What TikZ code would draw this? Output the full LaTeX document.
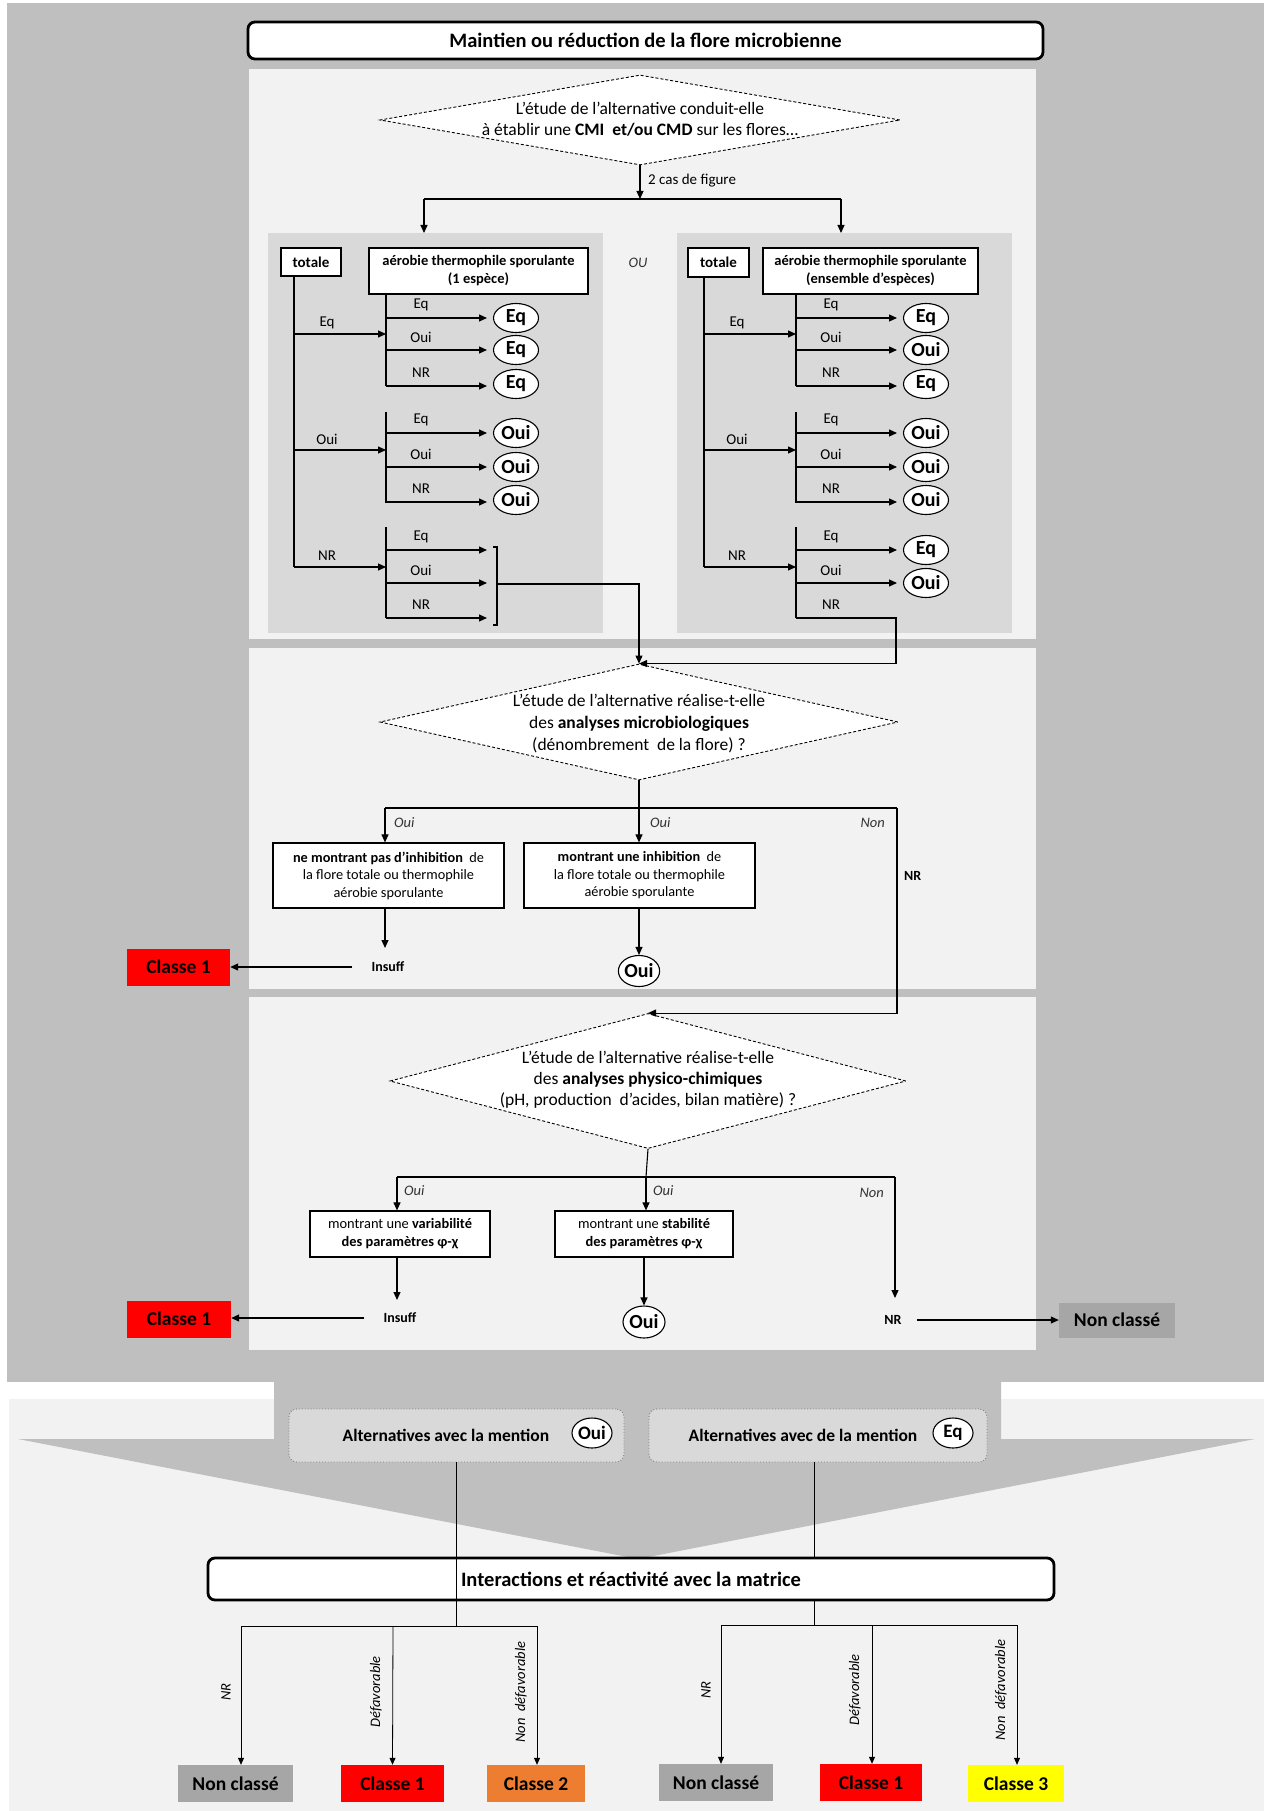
\documentclass[tikz,border=0pt]{standalone}
\usepackage{fontspec}
\setmainfont{Carlito}
\usetikzlibrary{arrows.meta,shapes.geometric}
\definecolor{bgd}{HTML}{BFBFBF}
\definecolor{bgl}{HTML}{F2F2F2}
\definecolor{inr}{HTML}{D9D9D9}
\definecolor{ncg}{HTML}{A6A6A6}
\definecolor{org}{HTML}{ED7D31}
\definecolor{ylw}{HTML}{FFFF00}
\definecolor{rd}{HTML}{FF0000}
\newcommand\fsz[2]{\fontsize{#1}{#2}\selectfont}
\begin{document}
\begin{tikzpicture}[x=1pt,y=-1pt,
 arr/.style={-{Triangle[length=8,width=7]}, line width=1.1},
 tarr/.style={-{Triangle[length=7,width=6]}, line width=0.8},
 ln/.style={line width=1.1},
 wbox/.style={draw, fill=white, line width=1.2, inner sep=2, align=center},
 ell/.style={ellipse, draw, fill=white, line width=1.1, inner sep=0, minimum width=45, minimum height=29, font=\fsz{20}{22}\bfseries},
 lab/.style={font=\fsz{15}{17}, inner sep=1},
 blab/.style={font=\fsz{14}{16}\bfseries, inner sep=1},
 ilab/.style={font=\fsz{14.5}{16}\itshape, inner sep=1, text=black!80},
 dia/.style={diamond, draw, dash pattern=on 3 off 2, line width=0.9, fill=white, inner sep=0},
 dtxt/.style={align=center, inner sep=0},
 cls/.style={minimum height=37, inner sep=0, font=\fsz{19.5}{22}\bfseries},
 rlab/.style={rotate=90, font=\fsz{14.5}{16}\itshape, inner sep=1},
 bigbox/.style={draw, line width=2.8, rounded corners=7, fill=white, inner sep=0, font=\fsz{20.5}{24}\bfseries},
 altbox/.style={draw=gray, dotted, line width=0.9, fill=inr, rounded corners=8, inner sep=0},
]
\useasboundingbox (0,0) rectangle (1266,1811);
% backgrounds
\fill[white] (0,0) rectangle (1266,1811);
\fill[bgd] (7,3) rectangle (1264,1382);
\fill[bgl] (9,1399) rectangle (1264,1811);
\fill[bgd] (274,1380) -- (274,1439) -- (18,1439) -- (638,1559) -- (1255,1439) -- (1001,1439) -- (1001,1380) -- cycle;
\fill[bgl] (249,69) rectangle (1036,639);
\fill[bgl] (249,648) rectangle (1036,989);
\fill[bgl] (249,997) rectangle (1036,1350);

% title
\node[bigbox, minimum width=795, minimum height=37] (title) at (645.5,40.5) {Maintien ou réduction de la flore microbienne};

% diamond 1
\node[dia, minimum width=520, minimum height=90] (d1) at (640,120) {};
\node[dtxt, font=\fsz{17.5}{21}] (d1t) at (640,119)
 {L’étude de l’alternative conduit-elle\\à établir une \textbf{CMI\ \ et/ou CMD} sur les flores…};
\coordinate (j1) at (640,199);
\draw[arr] (d1.south) -- (j1);
\node[lab, anchor=west] (cas) at (647,181) {2 cas de figure};
\coordinate (jl) at (424,199);
\coordinate (jr) at (841,199);
\draw[ln] (jl) -- (jr);

% inner panels
\node[fill=inr, minimum width=335, minimum height=400, inner sep=0, anchor=north west] (pl) at (268,233) {};
\node[fill=inr, minimum width=335, minimum height=400, inner sep=0, anchor=north west] (pr) at (677,233) {};
\draw[arr] (jl) -- (jl |- pl.north);
\draw[arr] (jr) -- (jr |- pr.north);
\node[ilab] (ou) at (638,263) {OU};

% left tree
\node[wbox, minimum width=60, minimum height=28, inner sep=0, font=\fsz{15}{17}\bfseries] (totL) at (311,262) {totale};
\node[wbox, minimum width=219, minimum height=46, inner sep=0, font=\fsz{14.5}{18}\bfseries] (aerL) at (478.5,271) {aérobie thermophile sporulante\\(1 espèce)};
\coordinate (tL) at (294,567);
\draw[ln] (totL.south -| tL) -- (tL);
\foreach \y/\t in {334/Eq,450/Oui,567/NR} {
  \draw[arr] (294,\y) -- (386,\y);
  \node[lab] (bl\y) at (327,\y-11) {\t};
}
\draw[ln] (386,294) -- (386,386);
\draw[ln] (386,412) -- (386,503);
\draw[ln] (386,527) -- (386,618);
\foreach \y/\t in {318/Eq,350/Oui,386/NR,433/Eq,467/Oui,502/NR,550/Eq,583/Oui,618/NR} {
  \draw[arr] (386,\y) -- (487,\y);
  \node[lab] (sl\y) at (421,\y-13) {\t};
}
\foreach \y/\t [count=\i] in {318/Eq,350/Eq,384/Eq,433/Oui,467/Oui,500/Oui}
  \node[ell] (eL\i) at (516,\y) {\t};
\draw[ln] (493,547) -- (497,547) -- (497,625) -- (493,625);
\coordinate (brL) at (497,584);

% right tree
\node[wbox, minimum width=61, minimum height=29, inner sep=0, font=\fsz{15}{17}\bfseries] (totR) at (718.5,262.5) {totale};
\node[wbox, minimum width=215, minimum height=46, inner sep=0, font=\fsz{14.5}{18}\bfseries] (aerR) at (870.5,271) {aérobie thermophile sporulante\\(ensemble d’espèces)};
\coordinate (tR) at (704,567);
\draw[ln] (totR.south -| tR) -- (tR);
\foreach \y/\t in {334/Eq,450/Oui,567/NR} {
  \draw[arr] (704,\y) -- (796,\y);
  \node[lab] (br\y) at (737,\y-11) {\t};
}
\draw[ln] (796,294) -- (796,386);
\draw[ln] (796,412) -- (796,503);
\draw[ln] (796,527) -- (796,618);
\foreach \y/\t in {318/Eq,350/Oui,386/NR,433/Eq,467/Oui,502/NR,550/Eq,583/Oui} {
  \draw[arr] (796,\y) -- (897,\y);
  \node[lab] (sr\y) at (831,\y-13) {\t};
}
\node[lab] (sr618) at (831,605) {NR};
\foreach \y/\t [count=\i] in {318/Eq,350/Oui,384/Eq,433/Oui,467/Oui,500/Oui,550/Eq,583/Oui}
  \node[ell] (eR\i) at (926,\y) {\t};
\coordinate (nrR) at (896,618);

% diamond 2
\node[dia, minimum width=518, minimum height=116] (d2) at (639,722) {};
\node[dtxt, font=\fsz{17.5}{22}] (d2t) at (639,724)
 {L’étude de l’alternative réalise-t-elle\\des \textbf{analyses microbiologiques}\\(dénombrement\ \ de la flore) ?};
\draw[arr] (brL) -| (d2.north);
\draw[arr] (796,618) -- (nrR) |- (d2.north);

\coordinate (j2) at (639,808);
\coordinate (a2) at (385,808);
\coordinate (c2) at (897,808);
\draw[ln] (d2.south) -- (j2);
\draw[ln] (a2) -- (c2);
\node[wbox, minimum width=231, minimum height=65, inner sep=0, font=\fsz{14.3}{17.5}] (bA) at (388.5,875.5)
 {\textbf{ne montrant pas d’inhibition}\ \ de\\la flore totale ou thermophile\\aérobie sporulante};
\node[wbox, minimum width=231, minimum height=65, inner sep=0, font=\fsz{14.3}{17.5}] (bB) at (639.5,875.5)
 {\textbf{montrant une inhibition}\ \ de\\la flore totale ou thermophile\\aérobie sporulante};
\draw[arr] (a2) -- (a2 |- bA.north);
\draw[arr] (j2) -- (j2 |- bB.north);
\node[ilab, anchor=west] (o2a) at (393,823) {Oui};
\node[ilab, anchor=west] (o2b) at (649,823) {Oui};
\node[ilab, anchor=east] (n2) at (886,823) {Non};
\node[blab, anchor=west] (nr2) at (903,876) {NR};
\node[blab] (ins1) at (388,967) {Insuff};
\draw[arr] (bA.south -| a2) -- (385,948);
\node[cls, fill=rd, minimum width=103] (c1a) at (178.5,967) {Classe 1};
\draw[arr] ([xshift=-18]ins1.west) -- (ins1.west -| c1a.east);
\node[ell, minimum width=40, minimum height=31] (oui2) at (639,971) {Oui};
\draw[arr] (bB.south -| j2) -- (oui2.north);

% diamond 3
\node[dia, minimum width=516, minimum height=135] (d3) at (648,1081) {};
\node[dtxt, font=\fsz{17.5}{21}] (d3t) at (648,1080)
 {L’étude de l’alternative réalise-t-elle\\des \textbf{analyses physico-chimiques}\\(pH, production\ \ d’acides, bilan matière) ?};
\draw[arr] (c2) |- (d3.north);

\coordinate (j3) at (646,1177);
\coordinate (a3) at (397,1177);
\coordinate (c3) at (895,1177);
\draw[ln] (d3.south) -- (j3);
\draw[ln] (a3) -- (c3);
\node[wbox, minimum width=180, minimum height=46, inner sep=0, font=\fsz{14.4}{18}] (bC) at (400,1234)
 {montrant une \textbf{variabilité}\\\textbf{des paramètres φ-χ}};
\node[wbox, minimum width=178, minimum height=46, inner sep=0, font=\fsz{14.4}{18}] (bD) at (644,1234)
 {montrant une \textbf{stabilité}\\\textbf{des paramètres φ-χ}};
\draw[arr] (a3) -- (a3 |- bC.north);
\draw[arr] (j3) -- (j3 |- bD.north);
\node[ilab, anchor=west] (o3a) at (403,1191) {Oui};
\node[ilab, anchor=west] (o3b) at (652,1191) {Oui};
\node[ilab, anchor=east] (n3) at (885,1193) {Non};
\node[blab] (ins2) at (400,1318) {Insuff};
\draw[arr] (bC.south -| a3) -- (397,1300);
\node[cls, fill=rd, minimum width=104] (c1b) at (179,1319) {Classe 1};
\draw[arr] ([xshift=-18]ins2.west) -- (ins2.west -| c1b.east);
\node[ell, minimum width=42, minimum height=32] (oui3) at (644,1322) {Oui};
\draw[arr] (bD.south) -- (oui3.north);
\node[blab] (nr3) at (893,1320) {NR};
\draw[arr] (c3) -- (895,1298);
\node[cls, fill=ncg, minimum width=116, minimum height=35] (nc0) at (1117,1320) {Non classé};
\draw[arr] ([xshift=14]nr3.east) -- (nr3.east -| nc0.west);

% alternatives
\node[altbox, minimum width=335, minimum height=53] (alt1) at (456.5,1435.5) {};
\node[font=\fsz{17.5}{20}\bfseries, inner sep=0] (alt1t) at (446,1435) {Alternatives avec la mention};
\node[ell, minimum width=40, minimum height=30, font=\fsz{19}{21}\bfseries] (altO) at (592,1433) {Oui};
\node[altbox, minimum width=338, minimum height=53] (alt2) at (818,1435.5) {};
\node[font=\fsz{17.5}{20}\bfseries, inner sep=0] (alt2t) at (803,1435) {Alternatives avec de la mention};
\node[ell, minimum width=40, minimum height=30, font=\fsz{19}{21}\bfseries] (altE) at (953,1433) {Eq};

\coordinate (t1) at (456,1626);
\coordinate (t2) at (814,1625);
\draw[line width=0.9] (alt2.south -| t2) -- (t2);
\node[bigbox, minimum width=846, minimum height=42] (inter) at (631,1579) {Interactions et réactivité avec la matrice};
\draw[line width=0.9] (alt1.south -| t1) -- (t1);
\draw[line width=0.9] (inter.south -| t2) -- (t2);

% bottom classes
\node[cls, fill=ncg, minimum width=115] (nc1) at (235.5,1783.5) {Non classé};
\node[cls, fill=rd, minimum width=103] (k1) at (392.5,1783.5) {Classe 1};
\node[cls, fill=org, minimum width=98] (k2) at (536,1783.5) {Classe 2};
\node[cls, fill=ncg, minimum width=114] (nc2) at (716,1782.5) {Non classé};
\node[cls, fill=rd, minimum width=102] (k1b) at (871,1782.5) {Classe 1};
\node[cls, fill=ylw, minimum width=96] (k3) at (1016,1783.5) {Classe 3};

\draw[line width=0.9] (241,1626) -- (537,1626);
\draw[tarr] (241,1626) -- (nc1.north -| 241,0);
\draw[tarr] (393,1626) -- (k1.north);
\draw[tarr] (537,1626) -- (k2.north -| 537,0);
\draw[line width=0.9] (721,1625) -- (1017,1625);
\draw[tarr] (721,1625) -- (nc2.north -| 721,0);
\draw[tarr] (872,1625) -- (k1b.north -| 872,0);
\draw[tarr] (1017,1625) -- (k3.north -| 1017,0);

\node[rlab] (r1) at (226,1692) {NR};
\node[rlab] (r2) at (376,1692) {Défavorable};
\node[rlab] (r3) at (521,1692) {Non\ \ défavorable};
\node[rlab] (r4) at (706,1690) {NR};
\node[rlab] (r5) at (855,1690) {Défavorable};
\node[rlab] (r6) at (1001,1690) {Non\ \ défavorable};
\end{tikzpicture}
\end{document}
